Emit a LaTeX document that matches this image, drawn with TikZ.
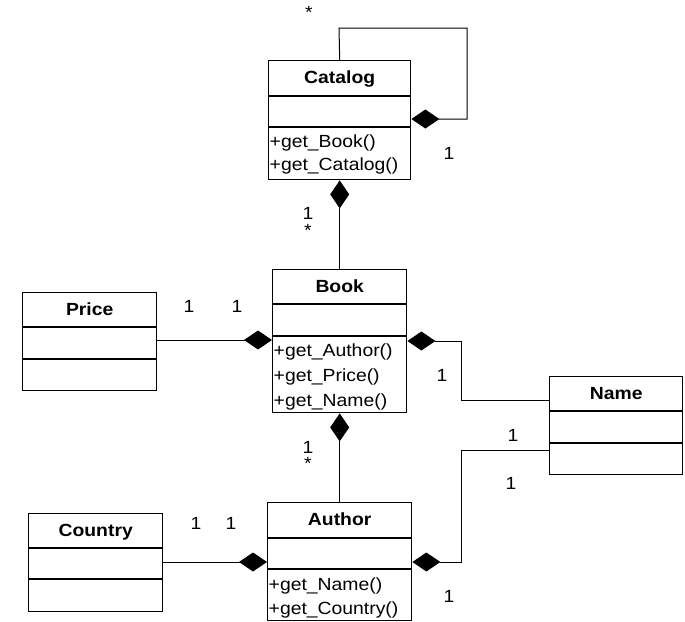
\documentclass[tikz,border=0pt]{standalone}
\usepackage{fontspec}
\setmainfont{Liberation Sans}[FakeStretch=1.1]
\usetikzlibrary{arrows.meta}
\begin{document}
\begin{tikzpicture}[x=1pt,y=-1pt,
  cls/.style={draw, line width=1.4pt, rectangle, inner sep=0pt, anchor=north west},
  sep/.style={line width=1.4pt},
  title/.style={inner sep=0pt, anchor=base, font=\fontsize{17.6}{20}\selectfont\bfseries},
  meth/.style={inner sep=0pt, anchor=base west, font=\fontsize{17.6}{20}\selectfont},
  mult/.style={inner sep=0pt, font=\fontsize{17.6}{20}\selectfont},
  comp/.style={line width=1pt, -{Diamond[length=28pt,width=19pt]}}]
\useasboundingbox (0,0) rectangle (685,621);

% class boxes
\node[cls, minimum width=142pt, minimum height=119pt] (catalog) at (268,60) {};
\node[cls, minimum width=134pt, minimum height=143pt] (book) at (272,269) {};
\node[cls, minimum width=134pt, minimum height=98pt] (price) at (22,292) {};
\node[cls, minimum width=133pt, minimum height=98pt] (name) at (549,376) {};
\node[cls, minimum width=134pt, minimum height=98pt] (country) at (28,513) {};
\node[cls, minimum width=144pt, minimum height=118pt] (author) at (267,502) {};

% compartment separators
\draw[sep] (catalog.west |- 0,96) -- (catalog.east |- 0,96);
\draw[sep] (catalog.west |- 0,127) -- (catalog.east |- 0,127);
\draw[sep] (book.west |- 0,304) -- (book.east |- 0,304);
\draw[sep] (book.west |- 0,336) -- (book.east |- 0,336);
\draw[sep] (price.west |- 0,327) -- (price.east |- 0,327);
\draw[sep] (price.west |- 0,359) -- (price.east |- 0,359);
\draw[sep] (name.west |- 0,411) -- (name.east |- 0,411);
\draw[sep] (name.west |- 0,443) -- (name.east |- 0,443);
\draw[sep] (country.west |- 0,548) -- (country.east |- 0,548);
\draw[sep] (country.west |- 0,579) -- (country.east |- 0,579);
\draw[sep] (author.west |- 0,538) -- (author.east |- 0,538);
\draw[sep] (author.west |- 0,569) -- (author.east |- 0,569);

% class names
\node[title] (catalog-t) at (catalog.north |- 0,83.5) {Catalog};
\node[title] (book-t) at (book.north |- 0,292.5) {Book};
\node[title] (price-t) at (price.north |- 0,315.5) {Price};
\node[title] (name-t) at (name.north |- 0,399.5) {Name};
\node[title] (country-t) at (country.north |- 0,536.5) {Country};
\node[title] (author-t) at (author.north |- 0,525.5) {Author};

% operations
\node[meth] (catalog-m1) at (269.5,147.7) {+get\_Book()};
\node[meth] (catalog-m2) at (269.5,170.7) {+get\_Catalog()};
\node[meth] (book-m1) at (273.5,356) {+get\_Author()};
\node[meth] (book-m2) at (273.5,381) {+get\_Price()};
\node[meth] (book-m3) at (273.5,406) {+get\_Name()};
\node[meth] (author-m1) at (268.5,590) {+get\_Name()};
\node[meth] (author-m2) at (268.5,614) {+get\_Country()};

% compositions
\draw[comp] (catalog.north) -- (339,28) -| (467,119) -- (catalog.east |- 0,119);
\draw[comp] (book.north) -- (catalog.south);
\draw[comp] (price.east |- 0,340) -- (book.west |- 0,340);
\draw[comp] (name.west |- 0,400) -| (461,341) -- (book.east |- 0,341);
\draw[comp] (author.north) -- (book.south);
\draw[comp] (country.east |- 0,562) -- (author.west |- 0,562);
\draw[comp] (name.west |- 0,450) -| (461,562) -- (author.east |- 0,562);

% multiplicities
\node[mult] (m1) at (309,12) {*};
\node[mult] (m2) at (449,153) {1};
\node[mult] (m3) at (308,213) {1};
\node[mult] (m4) at (308,230) {*};
\node[mult] (m5) at (189,306) {1};
\node[mult] (m6) at (237,306) {1};
\node[mult] (m7) at (442,375) {1};
\node[mult] (m8) at (513,435) {1};
\node[mult] (m9) at (511,483) {1};
\node[mult] (m10) at (308,447) {1};
\node[mult] (m11) at (308,463) {*};
\node[mult] (m12) at (196,523) {1};
\node[mult] (m13) at (231,523) {1};
\node[mult] (m14) at (449,596) {1};
\end{tikzpicture}
\end{document}
